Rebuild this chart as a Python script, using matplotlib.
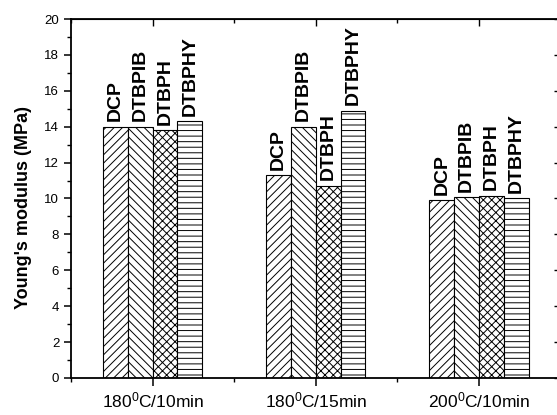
import numpy as np
import matplotlib
matplotlib.use("Agg")
import matplotlib.pyplot as plt
from matplotlib.ticker import MultipleLocator, FixedLocator, NullFormatter

plt.rcParams['font.family'] = ['Liberation Sans', 'DejaVu Sans']
plt.rcParams['mathtext.default'] = 'regular'
plt.rcParams['hatch.linewidth'] = 0.7

conditions = ["180$^0$C/10min", "180$^0$C/15min", "200$^0$C/10min"]
peroxides = ["DCP", "DTBPIB", "DTBPH", "DTBPHY"]
dcp = [14.0, 11.3, 9.9]
dtbpib = [14.0, 14.0, 10.08]
dtbph = [13.8, 10.7, 10.16]
dtbphy = [14.3, 14.9, 10.0]
hatches = ["////", "\\\\\\\\", "xxxx", "---"]

values = [dcp, dtbpib, dtbph, dtbphy]
x = np.arange(1, len(conditions) + 1)
width = 0.152

fig = plt.figure(figsize=(5.57, 4.15), dpi=100)
ax = fig.add_axes([0.1275, 0.0892, 0.879, 0.865])

for i, (name, vals, h) in enumerate(zip(peroxides, values, hatches)):
    pos = x + (i - 1.5) * width
    bars = ax.bar(pos, vals, width, facecolor='white', edgecolor='black',
                  linewidth=0.8, hatch=h)
    for rect in bars:
        ax.annotate(name,
                    xy=(rect.get_x() + rect.get_width() / 2, rect.get_height()),
                    xytext=(0, 4), textcoords="offset points",
                    rotation=90, ha='center', va='bottom',
                    fontsize=14, fontweight='bold')

ax.set_xlim(0.5, 3.5)
ax.set_ylim(0, 20)
ax.set_xticks(x)
ax.set_xticklabels(conditions, fontsize=12.5)
ax.xaxis.set_minor_locator(FixedLocator([0.5, 1.5, 2.5, 3.5]))
ax.yaxis.set_major_locator(MultipleLocator(2))
ax.yaxis.set_minor_locator(MultipleLocator(1))
ax.set_ylabel("Young's modulus (MPa)", fontsize=13, fontweight='bold')
ax.yaxis.set_label_coords(-0.08, 0.475)

for s in ax.spines.values():
    s.set_linewidth(1.3)
ax.tick_params(axis='y', which='major', direction='out', length=5, width=1.1, labelsize=9.5)
ax.tick_params(axis='y', which='minor', direction='out', length=3, width=1.0)
ax.tick_params(axis='x', which='major', direction='out', length=6, width=1.1, pad=3)
ax.tick_params(axis='x', which='minor', direction='out', length=3, width=1.0)

top = ax.secondary_xaxis('top')
top.set_xticks(x)
top.xaxis.set_minor_locator(FixedLocator([0.5, 1.5, 2.5, 3.5]))
top.xaxis.set_major_formatter(NullFormatter())
top.tick_params(which='major', direction='in', length=5, width=1.0)
top.tick_params(which='minor', direction='in', length=3, width=1.0)

right = ax.secondary_yaxis('right')
right.yaxis.set_major_locator(MultipleLocator(2))
right.yaxis.set_minor_locator(MultipleLocator(1))
right.yaxis.set_major_formatter(NullFormatter())
right.tick_params(which='major', direction='in', length=5, width=1.0)
right.tick_params(which='minor', direction='in', length=3, width=1.0)

plt.savefig("out.png", dpi=100)
